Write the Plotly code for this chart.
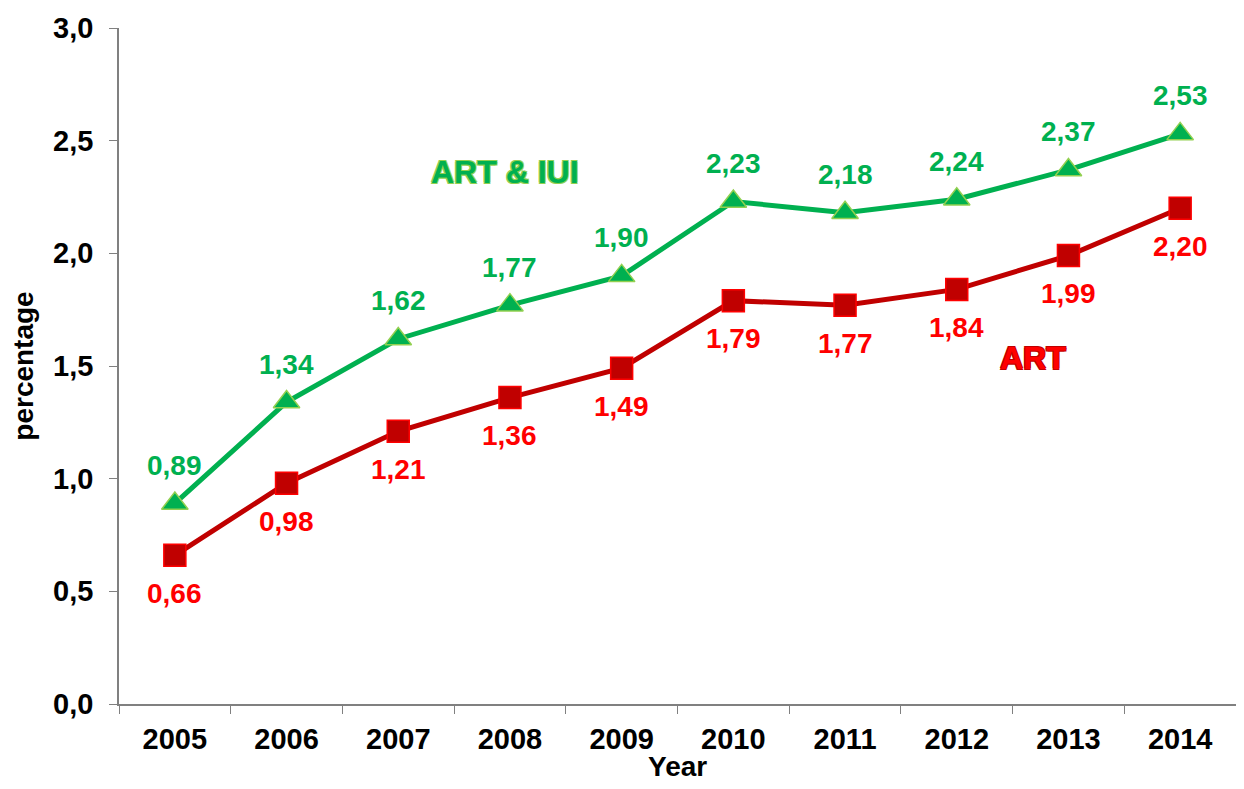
"""ART and ART & IUI percentage trend, 2005-2014."""

import plotly.graph_objects as go

years = ["2005", "2006", "2007", "2008", "2009", "2010", "2011", "2012", "2013", "2014"]
art_iui = [0.89, 1.34, 1.62, 1.77, 1.90, 2.23, 2.18, 2.24, 2.37, 2.53]
art = [0.66, 0.98, 1.21, 1.36, 1.49, 1.79, 1.77, 1.84, 1.99, 2.20]

GREEN = "#00B050"
LIGHT_GREEN = "#92D050"
DARK_RED = "#C00000"
RED = "#FF0000"
FONT = "Liberation Sans, Arial, sans-serif"


def fmt(v):
    return f"{v:.2f}".replace(".", ",")


def outline(color):
    offs = [(1, 1), (-1, -1), (1, -1), (-1, 1)]
    return ", ".join(f"{dx}px {dy}px 0 {color}" for dx, dy in offs)


fig = go.Figure()
fig.add_trace(
    go.Scatter(
        x=years,
        y=art,
        mode="lines+markers",
        name="ART",
        line={"color": DARK_RED, "width": 5},
        marker={"symbol": "square", "size": 22, "color": DARK_RED,
                "line": {"color": RED, "width": 1.5}},
    )
)
fig.add_trace(
    go.Scatter(
        x=years,
        y=art_iui,
        mode="lines+markers",
        name="ART & IUI",
        line={"color": GREEN, "width": 5},
        marker={"symbol": "triangle-up", "size": 23, "color": GREEN,
                "line": {"color": LIGHT_GREEN, "width": 1.5}},
    )
)

annotations = []
# category axis: place labels by category index
for i, v in enumerate(art_iui):
    annotations.append(dict(
        x=i, y=v, xref="x", yref="y", text=fmt(v), showarrow=False, yshift=38,
        font={"family": FONT, "size": 28, "color": GREEN, "weight": "bold"},
    ))
for i, v in enumerate(art):
    annotations.append(dict(
        x=i, y=v, xref="x", yref="y", text=fmt(v), showarrow=False, yshift=-38,
        font={"family": FONT, "size": 28, "color": RED, "weight": "bold"},
    ))

annotations.append(dict(
    xref="paper", yref="paper", x=0.346, y=0.787, xanchor="center", yanchor="middle",
    text="ART & IUI", showarrow=False,
    font={"family": FONT, "size": 32, "color": GREEN, "weight": "bold",
          "shadow": outline(LIGHT_GREEN)},
))
annotations.append(dict(
    xref="paper", yref="paper", x=0.818, y=0.512, xanchor="center", yanchor="middle",
    text="ART", showarrow=False,
    font={"family": FONT, "size": 32, "color": RED, "weight": "bold",
          "shadow": outline(DARK_RED)},
))

axis_font = {"family": FONT, "size": 29, "color": "#000000", "weight": "bold"}
title_font = {"family": FONT, "size": 28, "color": "#000000", "weight": "bold"}

# x-axis title as an annotation so it can sit low without shrinking the plot
annotations.append(dict(
    xref="paper", yref="paper", x=0.5, y=0, xanchor="center", yanchor="middle",
    yshift=-62, text="Year", showarrow=False, font=title_font,
))

fig.update_layout(
    margin={"l": 111, "r": 0, "t": 20, "b": 77},
    paper_bgcolor="white",
    plot_bgcolor="white",
    showlegend=False,
    separators=",.",
    annotations=annotations,
    xaxis={
        "type": "category",
        "range": [-0.5, 9.5],
        "tickson": "boundaries",
        "ticks": "outside",
        "ticklen": 8,
        "tickcolor": "#808080",
        "ticklabelstandoff": 8,
        "showline": True,
        "linecolor": "#808080",
        "linewidth": 1.5,
        "showgrid": False,
        "automargin": False,
        "tickfont": axis_font,
    },
    yaxis={
        "range": [0, 3],
        "dtick": 0.5,
        "tickformat": ".1f",
        "ticks": "outside",
        "ticklen": 8,
        "tickcolor": "#808080",
        "ticklabelstandoff": 10,
        "showline": True,
        "linecolor": "#808080",
        "linewidth": 1.5,
        "showgrid": False,
        "zeroline": False,
        "automargin": False,
        "tickfont": axis_font,
        "title": {"text": "percentage", "font": title_font, "standoff": 18},
    },
)

fig.write_html("out.html")
